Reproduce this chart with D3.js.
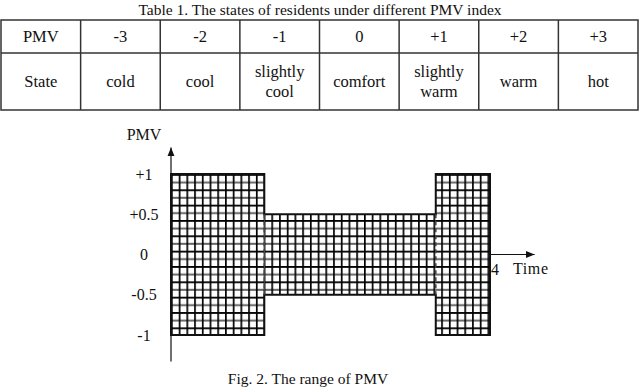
<!DOCTYPE html>
<html>
<head>
<meta charset="utf-8">
<script src="https://cdn.jsdelivr.net/npm/d3@7"></script>
<style>
  body { margin: 0; background: #fff; }
  svg text, svg tspan { font-family: "Liberation Serif", "DejaVu Serif", serif; fill: #111; }
</style>
</head>
<body>
<script>
// table contents
var pmvRow = ["PMV", "-3", "-2", "-1", "0", "+1", "+2", "+3"];
var stateRow = ["State", "cold", "cool", "slightly cool", "comfort", "slightly warm", "warm", "hot"];

// PMV range blocks over time
var blockStart = [0, 1.17, 3.32];
var blockEnd = [1.17, 3.32, 4];
var blockLow = [-1, -0.5, -1];
var blockHigh = [1, 0.5, 1];

var yTicks = [1, 0.5, 0, -0.5, -1];
var yTickLabels = ["+1", "+0.5", "0", "-0.5", "-1"];
var xTicks = [4];

var widthSVG = 640, heightSVG = 390;
var serif = "Liberation Serif, DejaVu Serif, serif";

var svg = d3.select("body").append("svg")
  .attr("width", widthSVG)
  .attr("height", heightSVG)
  .attr("font-family", serif);

// ---------- table ----------
svg.append("text")
  .attr("x", 320).attr("y", 15)
  .attr("text-anchor", "middle")
  .attr("font-family", serif)
  .attr("font-size", 15.5)
  .text("Table 1. The states of residents under different PMV index");

var colScale = d3.scaleBand()
  .domain(d3.range(pmvRow.length))
  .range([1, 638]);

var rowTop = 20, rowMid = 53, rowBottom = 110;
var tbl = svg.append("g").attr("font-family", serif);

tbl.append("rect")
  .attr("x", 1).attr("y", rowTop)
  .attr("width", 637).attr("height", rowBottom - rowTop)
  .attr("fill", "none").attr("stroke", "#333").attr("stroke-width", 1.5);

tbl.append("line")
  .attr("x1", 1).attr("x2", 638)
  .attr("y1", rowMid).attr("y2", rowMid)
  .attr("stroke", "#333").attr("stroke-width", 1.5);

tbl.selectAll(".vline").data(d3.range(1, pmvRow.length)).enter()
  .append("line")
  .attr("x1", d => colScale(d)).attr("x2", d => colScale(d))
  .attr("y1", rowTop).attr("y2", rowBottom)
  .attr("stroke", "#333").attr("stroke-width", 1.5);

tbl.selectAll(".pmv").data(pmvRow).enter()
  .append("text")
  .attr("x", (d, i) => colScale(i) + colScale.bandwidth() / 2)
  .attr("y", (rowTop + rowMid) / 2 + 5.5)
  .attr("text-anchor", "middle")
  .attr("font-family", serif)
  .attr("font-size", 16.5)
  .text(d => d);

tbl.selectAll(".state").data(stateRow).enter()
  .append("text")
  .attr("text-anchor", "middle")
  .attr("font-family", serif)
  .attr("font-size", 16.5)
  .each(function(d, i) {
    var words = d.split(" ");
    var cx = colScale(i) + colScale.bandwidth() / 2;
    var cy = (rowMid + rowBottom) / 2 + 5.5;
    var t = d3.select(this);
    words.forEach(function(w, k) {
      t.append("tspan")
        .attr("x", cx)
        .attr("y", cy + (k - (words.length - 1) / 2) * 20)
        .text(w);
    });
  });

// ---------- figure ----------
var x = d3.scaleLinear().domain([0, 4]).range([171, 490]);
var y = d3.scaleLinear().domain([-1, 1]).range([335, 174]);

var defs = svg.append("defs");

var cellW = 7.72, cellH = 7.67;
var pat = defs.append("pattern")
  .attr("id", "grid")
  .attr("patternUnits", "userSpaceOnUse")
  .attr("x", x(0)).attr("y", y(1))
  .attr("width", cellW).attr("height", cellH * 2);
pat.append("rect").attr("width", cellW).attr("height", cellH * 2).attr("fill", "#fff");
pat.append("line")
  .attr("x1", 0).attr("x2", cellW).attr("y1", 0.8).attr("y2", 0.8)
  .attr("stroke", "#000").attr("stroke-width", 2);
pat.append("line")
  .attr("x1", 0).attr("x2", cellW).attr("y1", cellH + 0.8).attr("y2", cellH + 0.8)
  .attr("stroke", "#666").attr("stroke-width", 2);
pat.append("line")
  .attr("x1", 0.8).attr("x2", 0.8).attr("y1", 0).attr("y2", cellH * 2)
  .attr("stroke", "#000").attr("stroke-width", 1.8);

defs.append("marker")
  .attr("id", "arrow")
  .attr("viewBox", "0 0 10 10")
  .attr("refX", 10).attr("refY", 5)
  .attr("markerWidth", 9).attr("markerHeight", 9)
  .attr("markerUnits", "userSpaceOnUse")
  .attr("orient", "auto")
  .append("path")
  .attr("d", "M0,1 L10,5 L0,9 Z")
  .attr("fill", "#111");

var fig = svg.append("g").attr("font-family", serif);

// hatched blocks
fig.selectAll(".block").data(blockStart).enter()
  .append("rect")
  .attr("x", (d, i) => x(d))
  .attr("y", (d, i) => y(blockHigh[i]))
  .attr("width", (d, i) => x(blockEnd[i]) - x(d))
  .attr("height", (d, i) => y(blockLow[i]) - y(blockHigh[i]))
  .attr("fill", "url(#grid)");

// outer outline of the blocks
var p = d3.path();
p.moveTo(x(blockStart[0]), y(blockHigh[0]));
blockStart.forEach(function(d, i) {
  p.lineTo(x(d), y(blockHigh[i]));
  p.lineTo(x(blockEnd[i]), y(blockHigh[i]));
});
for (var i = blockStart.length - 1; i >= 0; i--) {
  p.lineTo(x(blockEnd[i]), y(blockLow[i]));
  p.lineTo(x(blockStart[i]), y(blockLow[i]));
}
p.closePath();
fig.append("path")
  .attr("d", p.toString())
  .attr("fill", "none")
  .attr("stroke", "#111")
  .attr("stroke-width", 2);

// dashed inner boundaries
fig.selectAll(".inner").data(blockStart.slice(1)).enter()
  .append("line")
  .attr("x1", d => x(d)).attr("x2", d => x(d))
  .attr("y1", (d, i) => y(Math.min(blockHigh[i], blockHigh[i + 1])))
  .attr("y2", (d, i) => y(Math.max(blockLow[i], blockLow[i + 1])))
  .attr("stroke", "#444")
  .attr("stroke-width", 1.6)
  .attr("stroke-dasharray", "4,3");

// y axis with arrow
fig.append("line")
  .attr("x1", x(0)).attr("x2", x(0))
  .attr("y1", y(-1.33)).attr("y2", y(1.33))
  .attr("stroke", "#111").attr("stroke-width", 1.2)
  .attr("marker-end", "url(#arrow)");

// x axis with arrow, past the last block
fig.append("line")
  .attr("x1", x(4)).attr("x2", x(4.56))
  .attr("y1", y(0)).attr("y2", y(0))
  .attr("stroke", "#111").attr("stroke-width", 1.2)
  .attr("marker-end", "url(#arrow)");

fig.selectAll(".ytick").data(yTicks).enter()
  .append("text")
  .attr("x", 144)
  .attr("y", d => y(d) + 5.5)
  .attr("text-anchor", "middle")
  .attr("font-family", serif)
  .attr("font-size", 16)
  .text((d, i) => yTickLabels[i]);

fig.append("text")
  .attr("x", 144).attr("y", 140)
  .attr("text-anchor", "middle")
  .attr("font-family", serif)
  .attr("font-size", 16)
  .text("PMV");

fig.selectAll(".xtick").data(xTicks).enter()
  .append("text")
  .attr("x", d => x(d) + 1)
  .attr("y", y(0) + 20)
  .attr("font-family", serif)
  .attr("font-size", 16)
  .text(d => d);

fig.append("text")
  .attr("x", 513).attr("y", y(0) + 19)
  .attr("font-family", serif)
  .attr("font-size", 16)
  .attr("letter-spacing", 0.6)
  .text("Time");

svg.append("text")
  .attr("x", 308).attr("y", 384)
  .attr("text-anchor", "middle")
  .attr("font-family", serif)
  .attr("font-size", 15.5)
  .text("Fig. 2. The range of PMV");
</script>
</body>
</html>
